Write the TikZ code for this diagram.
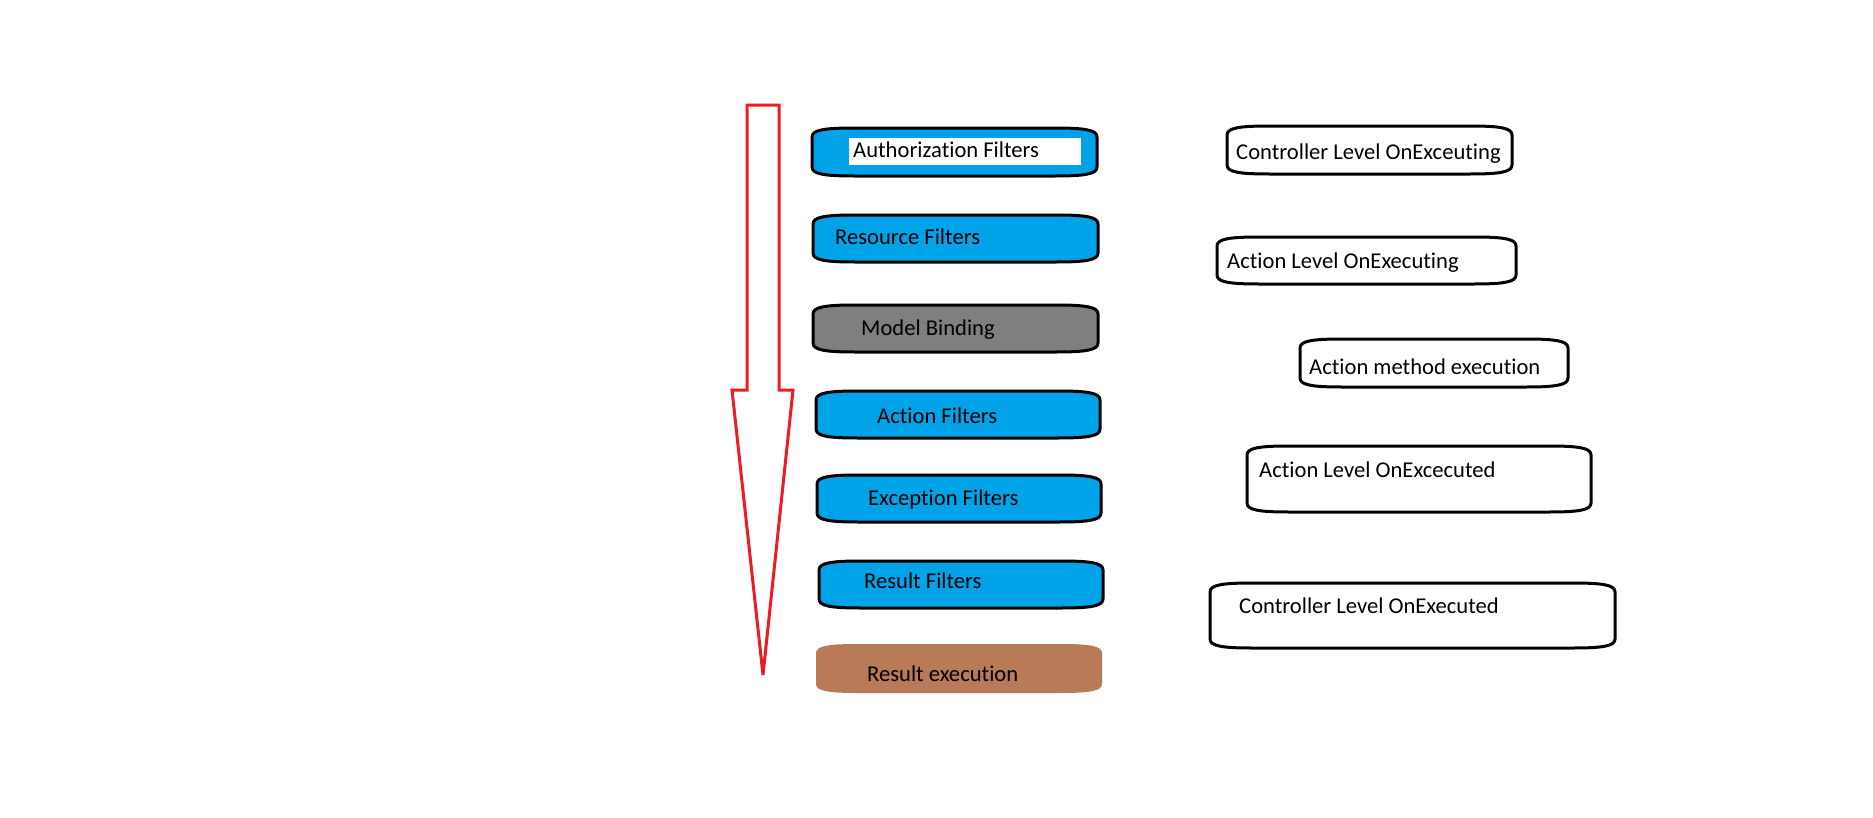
\documentclass[tikz,border=0pt]{standalone}
\usepackage{fontspec}
\setmainfont{Carlito}[Ligatures={NoCommon}]
\definecolor{paintblue}{RGB}{0,162,232}
\definecolor{paintgray}{RGB}{127,127,127}
\definecolor{paintbrown}{RGB}{185,122,87}
\definecolor{paintred}{RGB}{237,28,36}
% #1 style, #2 x1, #3 y1, #4 x2, #5 y2
\newcommand\paintbox[5]{%
  \path[#1] (#2,{#3+9}) .. controls (#2,{#3+2}) and ({#2+12},#3) .. ({#2+42},#3)
    -- ({#4-42},#3) .. controls ({#4-12},#3) and (#4,{#3+2}) .. (#4,{#3+9})
    -- (#4,{#5-9}) .. controls (#4,{#5-2}) and ({#4-12},#5) .. ({#4-42},#5)
    -- ({#2+42},#5) .. controls ({#2+12},#5) and (#2,{#5-2}) .. (#2,{#5-9}) -- cycle;}
\begin{document}
\begin{tikzpicture}[x=1bp,y=-1bp,
  outline/.style={draw=black,line width=3bp},
  bluebox/.style={outline,fill=paintblue},
  graybox/.style={outline,fill=paintgray},
  brownbox/.style={fill=paintbrown},
  whitebox/.style={outline,fill=white},
  lbl/.style={anchor=base west,inner sep=0pt,font=\fontsize{22.6bp}{27bp}\selectfont,text=black}]
\useasboundingbox[fill=white] (0,0) rectangle (1873,818);

% red flow arrow
\draw[paintred,line width=3bp,line join=miter,miter limit=3]
  (747,105) -- (779,105) -- (779,390) -- (793,390) -- (763,675) -- (732,390) -- (747,390) -- cycle;

% left column
\paintbox{bluebox}{812}{128}{1097}{176}
\fill[white] (849,138) rectangle (1081,165);
\node[lbl] (auth) at (853,157.5) {Authorization Filters};

\paintbox{bluebox}{813}{215}{1098}{262}
\node[lbl] (res) at (835,244) {Resource Filters};

\paintbox{graybox}{813}{305}{1098}{352}
\node[lbl] (model) at (861,335) {Model Binding};

\paintbox{bluebox}{816}{391}{1100}{438}
\node[lbl] (act) at (877,423) {Action Filters};

\paintbox{bluebox}{817}{475}{1101}{522}
\node[lbl] (exc) at (868,505) {Exception Filters};

\paintbox{bluebox}{819}{561}{1103}{608}
\node[lbl] (resf) at (864,588) {Result Filters};

\paintbox{brownbox}{816}{644}{1102}{693}
\node[lbl] (rexec) at (867,681) {Result execution};

% right column
\paintbox{whitebox}{1227}{126}{1512}{174}
\node[lbl] (ctrlon) at (1236,159) {Controller Level OnExceuting};

\paintbox{whitebox}{1217}{237}{1516}{284}
\node[lbl] (acton) at (1227,268) {Action Level OnExecuting};

\paintbox{whitebox}{1300}{339}{1568}{387}
\node[lbl] (amexec) at (1309,374) {Action method execution};

\paintbox{whitebox}{1247}{446}{1591}{512}
\node[lbl] (acted) at (1259,477) {Action Level OnExcecuted};

\paintbox{whitebox}{1210}{583}{1615}{648}
\node[lbl] (ctrled) at (1239,613) {Controller Level OnExecuted};
\end{tikzpicture}
\end{document}
